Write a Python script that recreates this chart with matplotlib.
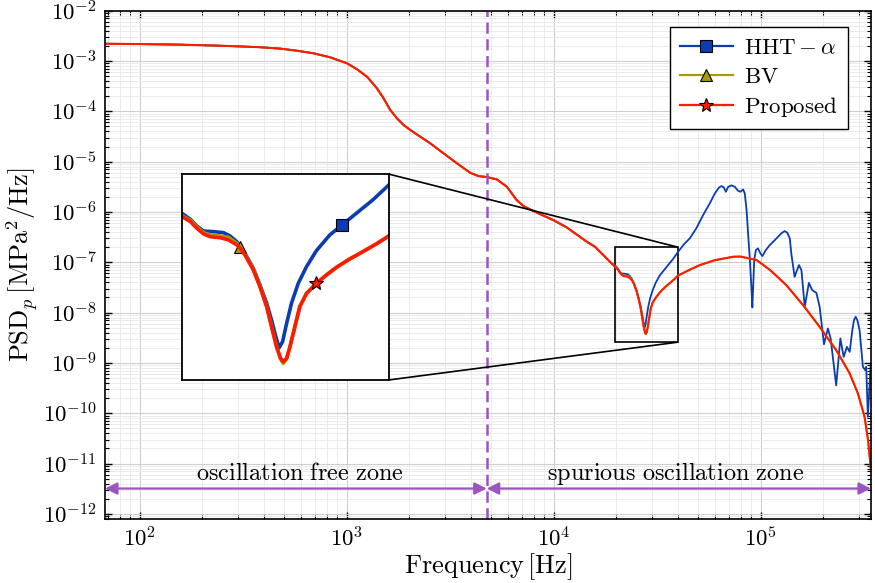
import numpy as np
import matplotlib
matplotlib.use('Agg')
import matplotlib.pyplot as plt
from matplotlib.lines import Line2D
from matplotlib.ticker import LogLocator, FuncFormatter, NullFormatter, NullLocator
from mpl_toolkits.axes_grid1.inset_locator import mark_inset

# ---- data (Hz, MPa^2/Hz) ----
# low-frequency part, identical for all three schemes
freq_common = [68, 100, 150, 200, 275, 380, 479, 576, 693, 834, 1004, 1122,
               1254, 1401, 1508, 1624, 1750, 1884, 2029, 2268, 2535, 2940,
               3412, 3953, 4335, 4755, 5318, 5943, 6630, 7150, 7690, 8590,
               9970, 11560, 13400, 14460, 15850, 17380, 19060]
psd_common = [2.2e-3, 2.17e-3, 2.12e-3, 2.06e-3, 1.98e-3, 1.88e-3, 1.76e-3,
              1.6e-3, 1.42e-3, 1.18e-3, 9.0e-4, 6.84e-4, 4.88e-4, 2.86e-4,
              1.81e-4, 1.06e-4, 7.26e-5, 5.35e-5, 4.25e-5, 3.13e-5, 2.31e-5,
              1.46e-5, 9.25e-6, 6.0e-6, 5.17e-6, 4.94e-6, 4.44e-6, 3.17e-6,
              1.72e-6, 1.31e-6, 1.13e-6, 9.08e-7, 6.9e-7, 4.94e-7, 3.21e-7,
              2.56e-7, 2.03e-7, 1.39e-7, 9.5e-8]

# HHT-alpha, high-frequency part
freq_hht_hi = [19770, 20340, 20790, 21270, 22000, 22750, 23270, 23800, 24470,
               25170, 25740, 26330, 26770, 27160, 27470, 27790, 28170, 28640,
               29300, 30130, 31160, 32600, 33980, 35660, 37720, 39810, 42660,
               45500, 48980, 52720, 56770, 60100, 62980, 64710, 66400, 67900,
               69710, 72300, 75000, 77830, 79920, 82260, 83800, 85500, 86960,
               88720, 90360, 91200, 93100, 94840, 97050, 99770, 102000,
               105900, 110700, 117000, 125900, 130600, 134600, 138300, 140600,
               145900, 153100, 157400, 163300, 171000, 177400, 185800, 192800,
               202300, 211300, 217800, 231700, 242700, 251800, 261200, 269200,
               277300, 282400, 287700, 293100, 300600, 311900, 319900, 323600,
               329600, 339600, 341200]
psd_hht_hi = [8.73e-8, 7.69e-8, 6.68e-8, 6.01e-8, 5.93e-8, 5.81e-8, 5.41e-8,
              4.80e-8, 3.75e-8, 2.74e-8, 1.92e-8, 1.31e-8, 9.18e-9, 6.46e-9,
              5.12e-9, 5.81e-9, 8.55e-9, 1.31e-8, 1.99e-8, 2.83e-8, 3.97e-8,
              5.53e-8, 6.82e-8, 8.73e-8, 1.16e-7, 1.59e-7, 2.3e-7, 3.0e-7,
              4.8e-7, 8.67e-7, 1.48e-6, 2.34e-6, 3.08e-6, 3.27e-6, 3.08e-6,
              2.52e-6, 3.17e-6, 3.38e-6, 3.17e-6, 2.64e-6, 2.52e-6, 2.81e-6,
              2.34e-6, 1.09e-6, 3.76e-7, 1.11e-7, 2.8e-8, 1.27e-8, 1.11e-7,
              1.75e-7, 1.89e-7, 1.5e-7, 1.33e-7, 1.75e-7, 2.2e-7, 2.76e-7,
              3.76e-7, 4.17e-7, 3.86e-7, 2.99e-7, 1.5e-7, 5.15e-8, 8.8e-8,
              7.0e-8, 1.3e-8, 3.9e-8, 2.8e-8, 2.48e-8, 1.3e-8, 2.36e-9,
              4.85e-9, 3.07e-9, 3.6e-10, 3.07e-9, 1.32e-9, 2.09e-9, 1.66e-9,
              4.5e-9, 7.1e-9, 8.26e-9, 7.1e-9, 4.5e-9, 8.4e-10, 7.2e-10,
              8.4e-10, 8.5e-11, 8.4e-10, 9.8e-10]

# BV and Proposed share the high-frequency grid
freq_prop_hi = [19770, 20340, 20790, 21270, 21750, 22500, 23140, 23800, 24060,
                24470, 25170, 25740, 26330, 26770, 27230, 27600, 27850, 28170,
                28490, 28970, 29460, 30130, 31160, 32240, 33340, 34870, 36470,
                38140, 39810, 44700, 50800, 60000, 73600, 80000, 95500, 110700,
                119000, 133000, 160300, 192800, 231700, 269200, 295100, 317700,
                330000, 341200]
psd_prop_hi = [8.15e-8, 7.33e-8, 6.37e-8, 5.65e-8, 5.33e-8, 5.22e-8, 4.98e-8,
               4.48e-8, 4.2e-8, 3.62e-8, 2.64e-8, 1.86e-8, 1.22e-8, 7.98e-9,
               5.22e-9, 4.09e-9, 3.81e-9, 4.09e-9, 5.22e-9, 7.98e-9, 1.22e-8,
               1.61e-8, 1.99e-8, 2.38e-8, 2.79e-8, 3.33e-8, 3.89e-8, 4.57e-8,
               5.41e-8, 6.9e-8, 8.8e-8, 1.1e-7, 1.29e-7, 1.3e-7, 1.11e-7,
               7.1e-8, 5.4e-8, 3.52e-8, 1.41e-8, 5.2e-9, 1.8e-9, 6.2e-10,
               2.47e-10, 8.5e-11, 3.0e-11, 7.5e-12]
psd_bv_hi = [8.3e-8, 7.5e-8, 6.55e-8, 5.8e-8, 5.55e-8, 5.4e-8, 5.26e-8,
             4.63e-8, 4.27e-8, 3.67e-8, 2.68e-8, 1.86e-8, 1.22e-8, 7.98e-9,
             5.22e-9, 4.05e-9, 3.68e-9, 4.05e-9, 5.22e-9, 7.98e-9, 1.22e-8,
             1.61e-8, 1.99e-8, 2.38e-8, 2.79e-8, 3.33e-8, 3.89e-8, 4.57e-8,
             5.41e-8, 6.9e-8, 8.8e-8, 1.1e-7, 1.29e-7, 1.3e-7, 1.11e-7,
             7.1e-8, 5.4e-8, 3.52e-8, 1.41e-8, 5.2e-9, 1.8e-9, 6.2e-10,
             2.47e-10, 8.5e-11, 3.0e-11, 7.5e-12]

f_split = 4750          # boundary between the two zones
marker_freq = {'hht': 33980, 'bv': 24060, 'prop': 31160}
zoom_xlim = (19770, 39810)
zoom_ylim = (2.59e-9, 2.0e-7)

BLUE = '#0b3db0'
OLIVE = '#a89a00'
RED = '#ff1a00'
PURPLE = '#9b55bf'

plt.rcParams['mathtext.fontset'] = 'cm'
plt.rcParams['font.family'] = 'serif'


def log_label(v, pos):
    return r'$10^{%d}$' % int(round(np.log10(v)))


def main():
    f_hht = np.array(freq_common + freq_hht_hi)
    p_hht = np.array(psd_common + psd_hht_hi)
    f_prop = np.array(freq_common + freq_prop_hi)
    p_prop = np.array(psd_common + psd_prop_hi)
    p_bv = np.array(psd_common + psd_bv_hi)

    fig = plt.figure(figsize=(8.75, 5.83), dpi=100)
    ax = fig.add_axes([0.12, 0.1098, 0.8754, 0.8719])

    ax.loglog(f_hht, p_hht, color=BLUE, lw=1.3)
    ax.loglog(f_prop, p_bv, color=OLIVE, lw=1.3)
    ax.loglog(f_prop, p_prop, color=RED, lw=1.5)

    ax.set_xlim(68, 341200)
    ax.set_ylim(10 ** -12.1, 1e-2)

    # ticks and grid, matlab style
    ax.xaxis.set_major_locator(LogLocator(base=10, subs=(1.0,), numticks=30))
    ax.yaxis.set_major_locator(LogLocator(base=10, subs=(1.0,), numticks=30))
    ax.yaxis.set_minor_locator(LogLocator(base=10, subs=np.arange(2, 10), numticks=300))
    ax.xaxis.set_minor_locator(LogLocator(base=10, subs=np.arange(2, 10), numticks=300))
    ax.xaxis.set_major_formatter(FuncFormatter(log_label))
    ax.yaxis.set_major_formatter(FuncFormatter(log_label))
    ax.yaxis.set_minor_formatter(NullFormatter())
    ax.xaxis.set_minor_formatter(NullFormatter())
    ax.tick_params(which='both', direction='in', top=True, right=True)
    ax.tick_params(which='major', length=5, width=1, labelsize=16.5, pad=6)
    ax.tick_params(which='minor', length=3, width=0.8)
    ax.grid(which='major', color='#cfcfcf', lw=0.8)
    ax.grid(which='minor', color='#e8e8e8', lw=0.6)
    ax.set_axisbelow(True)
    for s in ax.spines.values():
        s.set_linewidth(1.2)

    ax.set_xlabel(r'$\mathrm{Frequency}\,[\mathrm{Hz}]$', fontsize=19, labelpad=0)
    ax.set_ylabel(r'$\mathrm{PSD}_p\,[\mathrm{MPa}^2/\mathrm{Hz}]$', fontsize=19, labelpad=2)

    # zone separator and arrows
    ax.axvline(f_split, color=PURPLE, lw=1.8, ls=(0, (4.5, 2.2)))
    y_arrow = 3.2e-12
    arrow = dict(arrowstyle='<|-|>', color=PURPLE, lw=1.6,
                 mutation_scale=18, shrinkA=0, shrinkB=0)
    ax.annotate('', xy=(f_split, y_arrow), xytext=(68, y_arrow), arrowprops=arrow)
    ax.annotate('', xy=(341200, y_arrow), xytext=(f_split, y_arrow), arrowprops=arrow)
    ax.text(597, 6.5e-12, r'$\mathrm{oscillation\ free\ zone}$', fontsize=17.5,
            ha='center', va='center')
    ax.text(3.9e4, 6.5e-12, r'$\mathrm{spurious\ oscillation\ zone}$', fontsize=17.5,
            ha='center', va='center')

    # inset zoom of the first anti-resonance
    axins = ax.inset_axes([0.1005, 0.2735, 0.270, 0.405])
    idx_h = int(np.argmin(np.abs(f_hht - marker_freq['hht'])))
    idx_b = int(np.argmin(np.abs(f_prop - marker_freq['bv'])))
    idx_p = int(np.argmin(np.abs(f_prop - marker_freq['prop'])))
    axins.loglog(f_hht, p_hht, color=BLUE, lw=2.6, marker='s', ms=9,
                 mfc=BLUE, mec='k', mew=0.8, markevery=[idx_h])
    axins.loglog(f_prop, p_bv, color=OLIVE, lw=2.6, marker='^', ms=9,
                 mfc=OLIVE, mec='k', mew=0.8, markevery=[idx_b])
    axins.loglog(f_prop, p_prop, color=RED, lw=2.6, marker='*', ms=10,
                 mfc=RED, mec='k', mew=0.8, markevery=[idx_p])
    axins.set_xlim(*zoom_xlim)
    axins.set_ylim(*zoom_ylim)
    for axis in (axins.xaxis, axins.yaxis):
        axis.set_major_locator(NullLocator())
        axis.set_minor_locator(NullLocator())
    for s in axins.spines.values():
        s.set_linewidth(1.3)
    mark_inset(ax, axins, loc1=1, loc2=4, fc='none', ec='k', lw=1.2)

    handles = [
        Line2D([], [], color=BLUE, lw=1.6, marker='s', ms=9, mfc=BLUE, mec='k', mew=0.8),
        Line2D([], [], color=OLIVE, lw=1.6, marker='^', ms=9, mfc=OLIVE, mec='k', mew=0.8),
        Line2D([], [], color=RED, lw=1.6, marker='*', ms=10, mfc=RED, mec='k', mew=0.8),
    ]
    labels = [r'$\mathrm{HHT}-\alpha$', r'$\mathrm{BV}$', r'$\mathrm{Proposed}$']
    leg = ax.legend(handles, labels, loc='upper right', bbox_to_anchor=(0.97, 0.968),
                    borderaxespad=0, fontsize=16.5, fancybox=False, framealpha=1,
                    edgecolor='k', handlelength=2.3, labelspacing=0.3,
                    handletextpad=0.5, borderpad=0.45)
    leg.get_frame().set_linewidth(1.0)

    fig.savefig('out.png', dpi=100)


if __name__ == '__main__':
    main()
